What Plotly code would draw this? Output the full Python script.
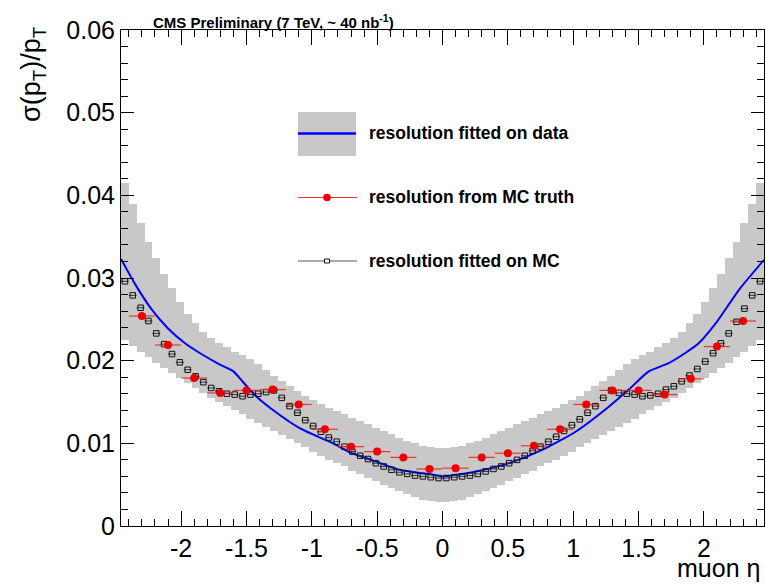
import plotly.graph_objects as go

# ---------------- data ----------------
bin_width = 0.06
first_bin = -2.43
n_bins = 82
eta_bins = [round(first_bin + i * bin_width, 2) for i in range(n_bins)]

# grey band (resolution fitted on data, uncertainty), upper / lower edge per bin
band_hi = [0.0415, 0.0390, 0.0366, 0.0344, 0.0324, 0.0305, 0.0288, 0.0271, 0.0257, 0.0245,
           0.0235, 0.0227, 0.0221, 0.0216, 0.0211, 0.0207, 0.0202, 0.0196, 0.0189, 0.0182,
           0.0175, 0.0169, 0.0163, 0.0157, 0.0152, 0.0147, 0.0143, 0.0139, 0.0135, 0.0131,
           0.0127, 0.0123, 0.0119, 0.0115, 0.0111, 0.0107, 0.0103, 0.0100, 0.0097, 0.0095,
           0.0094,
           0.0094, 0.0095, 0.0097, 0.0100, 0.0103, 0.0107, 0.0111, 0.0115, 0.0119, 0.0123,
           0.0127, 0.0131, 0.0135, 0.0139, 0.0143, 0.0147, 0.0152, 0.0157, 0.0163, 0.0169,
           0.0175, 0.0182, 0.0189, 0.0196, 0.0202, 0.0207, 0.0211, 0.0216, 0.0221, 0.0227,
           0.0235, 0.0245, 0.0257, 0.0271, 0.0288, 0.0305, 0.0324, 0.0344, 0.0366, 0.0390,
           0.0415]
band_lo = [0.0225, 0.0218, 0.0211, 0.0204, 0.0197, 0.0191, 0.0185, 0.0179, 0.0173, 0.0167,
           0.0161, 0.0155, 0.0150, 0.0145, 0.0140, 0.0135, 0.0130, 0.0125, 0.0120, 0.0115,
           0.0110, 0.0105, 0.0100, 0.0095, 0.0090, 0.0085, 0.0080, 0.0076, 0.0072, 0.0067,
           0.0063, 0.0058, 0.0054, 0.0050, 0.0046, 0.0042, 0.0039, 0.0035, 0.0032, 0.0030,
           0.0029,
           0.0029, 0.0030, 0.0032, 0.0035, 0.0039, 0.0042, 0.0046, 0.0050, 0.0054, 0.0058,
           0.0063, 0.0067, 0.0072, 0.0076, 0.0080, 0.0085, 0.0090, 0.0095, 0.0100, 0.0105,
           0.0110, 0.0115, 0.0120, 0.0125, 0.0130, 0.0135, 0.0140, 0.0145, 0.0150, 0.0155,
           0.0161, 0.0167, 0.0173, 0.0179, 0.0185, 0.0191, 0.0197, 0.0204, 0.0211, 0.0218,
           0.0225]

# resolution fitted on MC (open squares)
mc_fit = [0.0296, 0.0279, 0.0264, 0.0248, 0.0233, 0.0220, 0.0208, 0.0198, 0.0189, 0.0181,
          0.0174, 0.0167, 0.0163, 0.0160, 0.0159, 0.0157, 0.0159, 0.0160, 0.0162, 0.0164,
          0.0155, 0.0145, 0.0137, 0.0128, 0.0121, 0.0114, 0.0107, 0.0102, 0.0096, 0.0090,
          0.0085, 0.0081, 0.0076, 0.0072, 0.0068, 0.0065, 0.0063, 0.0061, 0.0060, 0.0059,
          0.0058,
          0.0058, 0.0059, 0.0060, 0.0061, 0.0063, 0.0066, 0.0069, 0.0072, 0.0076, 0.0080,
          0.0085, 0.0091, 0.0096, 0.0102, 0.0108, 0.0115, 0.0122, 0.0129, 0.0137, 0.0145,
          0.0155, 0.0164, 0.0161, 0.0160, 0.0159, 0.0157, 0.0158, 0.0160, 0.0165, 0.0169,
          0.0175, 0.0182, 0.0190, 0.0199, 0.0209, 0.0221, 0.0233, 0.0247, 0.0263, 0.0279,
          0.0296]

# resolution fitted on data (blue curve)
fit_eta = [-2.46, -2.35, -2.23, -2.10, -1.97, -1.855, -1.70, -1.60, -1.52, -1.42, -1.295,
           -1.09, -0.837, -0.71, -0.58, -0.33, -0.07, 0.0, 0.257, 0.51, 0.763, 1.018, 1.27,
           1.425, 1.578, 1.73, 1.855, 1.96, 2.09, 2.27, 2.46]
fit_val = [0.0323, 0.0292, 0.0263, 0.0239, 0.0221, 0.0209, 0.0195, 0.0187, 0.0173, 0.0156,
           0.0140, 0.0118, 0.0100, 0.0089, 0.0082, 0.0068, 0.0062, 0.0060, 0.0066, 0.0076,
           0.0092, 0.0114, 0.0144, 0.0165, 0.0187, 0.0197, 0.0209, 0.0221, 0.0245, 0.0286,
           0.0322]

# resolution from MC truth (red points)
truth_eta = [-2.3, -2.1, -1.9, -1.7, -1.5, -1.3, -1.1, -0.9, -0.7, -0.5, -0.3, -0.1,
             0.1, 0.3, 0.5, 0.7, 0.9, 1.1, 1.3, 1.5, 1.7, 1.9, 2.1, 2.3]
truth_val = [0.0254, 0.0219, 0.0179, 0.0161, 0.0164, 0.0165, 0.0147, 0.0117, 0.0096, 0.0090,
             0.0083, 0.0069, 0.0070, 0.0083, 0.0088, 0.0097, 0.0117, 0.0147, 0.0164, 0.0164,
             0.0159, 0.0178, 0.0217, 0.0248]
truth_xerr = 0.1

x_tickvals = [-2, -1.5, -1, -0.5, 0, 0.5, 1, 1.5, 2]
x_ticktext = ["-2", "-1.5", "-1", "-0.5", "0", "0.5", "1", "1.5", "2"]
y_tickvals = [0, 0.01, 0.02, 0.03, 0.04, 0.05, 0.06]
y_ticktext = ["0", "0.01", "0.02", "0.03", "0.04", "0.05", "0.06"]

legend_labels = ["resolution fitted on data", "resolution from MC truth", "resolution fitted on MC"]

# ---------------- figure ----------------
W, H = 766, 586
ML, MR, MT, MB = 121, 2, 30, 60
FONT = "Liberation Sans, Arial, Helvetica, sans-serif"
GREY = "#c8c8c8"

fig = go.Figure()

fig.add_trace(go.Bar(
    x=eta_bins,
    y=[h - l for h, l in zip(band_hi, band_lo)],
    base=band_lo,
    width=bin_width,
    marker=dict(color=GREY, line=dict(width=0)),
    showlegend=False, hoverinfo="skip",
))

fig.add_trace(go.Scatter(
    x=fit_eta, y=fit_val, mode="lines",
    line=dict(color="#0000ff", width=2, shape="spline", smoothing=0.6),
    showlegend=False,
))

fig.add_trace(go.Scatter(
    x=eta_bins, y=mc_fit, mode="markers",
    marker=dict(symbol="square-open", size=5.5, color="#111111", line=dict(width=1, color="#111111")),
    error_x=dict(type="constant", value=bin_width / 2, width=0, thickness=1, color="#333333"),
    showlegend=False,
))

fig.add_trace(go.Scatter(
    x=truth_eta, y=truth_val, mode="markers",
    marker=dict(symbol="circle", size=8, color="#ee0000"),
    error_x=dict(type="constant", value=truth_xerr, width=0, thickness=1.2, color="rgba(235,30,30,0.85)"),
    showlegend=False,
))

axis_common = dict(
    showline=True, linecolor="black", linewidth=1, mirror="ticks",
    ticks="inside", tickcolor="black", showgrid=False, zeroline=False,
    tickfont=dict(family=FONT, size=25, color="black"),
)
fig.update_xaxes(range=[-2.46, 2.46], tickvals=x_tickvals, ticktext=x_ticktext,
                 ticklen=15, tickwidth=1,
                 minor=dict(dtick=0.1, ticklen=7, ticks="inside", tickcolor="black", showgrid=False),
                 **axis_common)
fig.update_yaxes(range=[0, 0.06], tickvals=y_tickvals, ticktext=y_ticktext,
                 ticklen=13, tickwidth=1,
                 minor=dict(dtick=0.002, ticklen=7, ticks="inside", tickcolor="black", showgrid=False),
                 **axis_common)

PW = W - ML - MR
PH = H - MT - MB


def px(xpix):
    return (xpix - ML) / PW


def py(ypix):
    return (H - MB - ypix) / PH


shapes = []
# legend entry 1: grey box with blue line
shapes.append(dict(type="rect", xref="paper", yref="paper", x0=px(298), x1=px(356), y0=py(156), y1=py(112),
                   fillcolor=GREY, line=dict(width=0), layer="above"))
shapes.append(dict(type="line", xref="paper", yref="paper", x0=px(298), x1=px(356), y0=py(133.5), y1=py(133.5),
                   line=dict(color="#0000ff", width=2.5)))
# legend entry 2: red line with dot
shapes.append(dict(type="line", xref="paper", yref="paper", x0=px(298), x1=px(357), y0=py(197.5), y1=py(197.5),
                   line=dict(color="#ee3030", width=1.2)))
shapes.append(dict(type="circle", xref="paper", yref="paper", xsizemode="pixel", ysizemode="pixel",
                   xanchor=px(327), yanchor=py(197.5), x0=-3.8, x1=3.8, y0=-3.8, y1=3.8,
                   fillcolor="#ee0000", line=dict(width=0)))
# legend entry 3: grey line with open square
shapes.append(dict(type="line", xref="paper", yref="paper", x0=px(298), x1=px(357), y0=py(261), y1=py(261),
                   line=dict(color="#aaaaaa", width=2)))
shapes.append(dict(type="rect", xref="paper", yref="paper", xsizemode="pixel", ysizemode="pixel",
                   xanchor=px(327), yanchor=py(261), x0=-2.5, x1=2.5, y0=-2, y1=2,
                   fillcolor="white", line=dict(color="#111111", width=1)))

annotations = []
for label, ypix in zip(legend_labels, [133.5, 197.5, 261]):
    annotations.append(dict(text="<b>" + label + "</b>", xref="paper", yref="paper",
                            x=px(367), y=py(ypix), xanchor="left", yanchor="middle", showarrow=False,
                            font=dict(family=FONT, size=17.5, color="black")))

annotations.append(dict(text="<b>CMS Preliminary (7 TeV, ~ 40 nb<sup>-1</sup>)</b>", xref="paper", yref="paper",
                        x=px(151), y=py(21), xanchor="left", yanchor="middle", showarrow=False,
                        font=dict(family=FONT, size=15, color="black")))
annotations.append(dict(text="muon η", xref="paper", yref="paper",
                        x=px(762), y=py(584), xanchor="right", yanchor="bottom", showarrow=False,
                        font=dict(family=FONT, size=25, color="black")))
annotations.append(dict(text="σ(p<sub>T</sub>)/p<sub>T</sub>", xref="paper", yref="paper", textangle=-90,
                        x=px(33), y=py(24), xanchor="center", yanchor="top", showarrow=False,
                        font=dict(family=FONT, size=27, color="black")))

fig.update_layout(
    width=W, height=H,
    margin=dict(l=ML, r=MR, t=MT, b=MB, pad=0),
    paper_bgcolor="white", plot_bgcolor="white",
    bargap=0, barmode="overlay",
    showlegend=False,
    shapes=shapes, annotations=annotations,
    font=dict(family=FONT, color="black"),
)

fig.write_html("out.html", config={"displayModeBar": False})
